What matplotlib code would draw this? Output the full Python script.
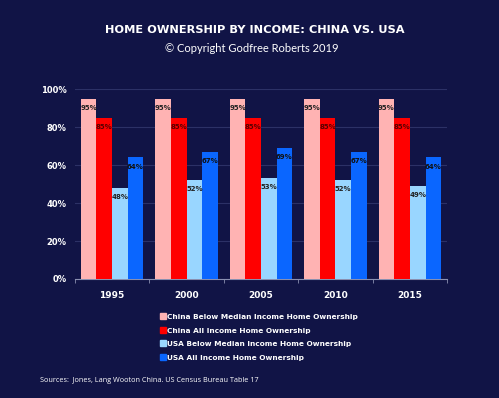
import numpy as np
import matplotlib
matplotlib.use("Agg")
from matplotlib import pyplot as plt
from matplotlib.lines import Line2D

# data
years = ["1995", "2000", "2005", "2010", "2015"]
china_below = [95, 95, 95, 95, 95]
china_all = [85, 85, 85, 85, 85]
usa_below = [48, 52, 53, 52, 49]
usa_all = [64, 67, 69, 67, 64]
series_names = ["China Below Median Income Home Ownership",
                "China All Income Home Ownership",
                "USA Below Median Income Home Ownership",
                "USA All Income Home Ownership"]
yticks = [0, 20, 40, 60, 80, 100]

bg = "#111446"
colors = ["#FFB3B3", "#FF0000", "#99D6FF", "#0A66FF"]
label_colors = ["#222222", "#5a0000", "#222222", "#111111"]

fig = plt.figure(figsize=(4.99, 3.98), dpi=100)
fig.patch.set_facecolor(bg)
ax = fig.add_axes([0.150, 0.299, 0.746, 0.477])
ax.set_facecolor(bg)

x = np.arange(len(years))
w = 0.21
all_series = [china_below, china_all, usa_below, usa_all]
for i, vals in enumerate(all_series):
    pos = x + (i - 1.5) * w
    ax.bar(pos, vals, width=w, color=colors[i], zorder=3)
    for px, v in zip(pos, vals):
        ax.annotate("%d%%" % v, (px, v), xytext=(0, -6.5), textcoords="offset points",
                    ha="center", va="center", fontsize=5, fontweight="bold",
                    color=label_colors[i], zorder=4)

ax.set_xlim(-0.5, len(years) - 0.5)
ax.set_ylim(0, 100)
ax.set_yticks(yticks)
ax.set_yticklabels(["%d%%" % t for t in yticks], color="white", fontsize=6, fontweight="bold")
ax.set_xticks(x)
ax.set_xticklabels(years, color="white", fontsize=6.5, fontweight="bold")
ax.tick_params(axis="x", length=0, pad=9)
ax.tick_params(axis="y", length=0, pad=6)
# separators between groups on the x axis
ax.set_xticks(np.arange(-0.5, len(years)), minor=True)
ax.tick_params(axis="x", which="minor", length=3, color="#8a8fb0")
ax.grid(axis="y", color="#2c3166", linewidth=0.8, zorder=0)
for s in ["top", "right", "left"]:
    ax.spines[s].set_visible(False)
ax.spines["bottom"].set_color("#8a8fb0")

fig.text(0.51, 0.925, "HOME OWNERSHIP BY INCOME: CHINA VS. USA", ha="center", va="center",
         color="white", fontsize=8.2, fontweight="bold", family="DejaVu Sans")
fig.text(0.505, 0.877, "\u00a9 Copyright Godfree Roberts 2019", ha="center", va="center",
         color="white", fontsize=8, family="Lato")

handles = [Line2D([], [], marker="s", linestyle="none", markersize=4.5, color=c) for c in colors]
leg = fig.legend(handles, series_names, loc="upper left", bbox_to_anchor=(0.305, 0.228),
                 frameon=False, handletextpad=0.1, handlelength=1.0, labelspacing=1.0,
                 prop={"family": "DejaVu Sans", "weight": "bold", "size": 5.3})
for t in leg.get_texts():
    t.set_color("white")

fig.text(0.08, 0.043, "Sources:  Jones, Lang Wooton China. US Census Bureau Table 17",
         ha="left", va="center", color="white", fontsize=5.2, family="Open Sans")

fig.savefig("out.png", dpi=100, facecolor=bg)
